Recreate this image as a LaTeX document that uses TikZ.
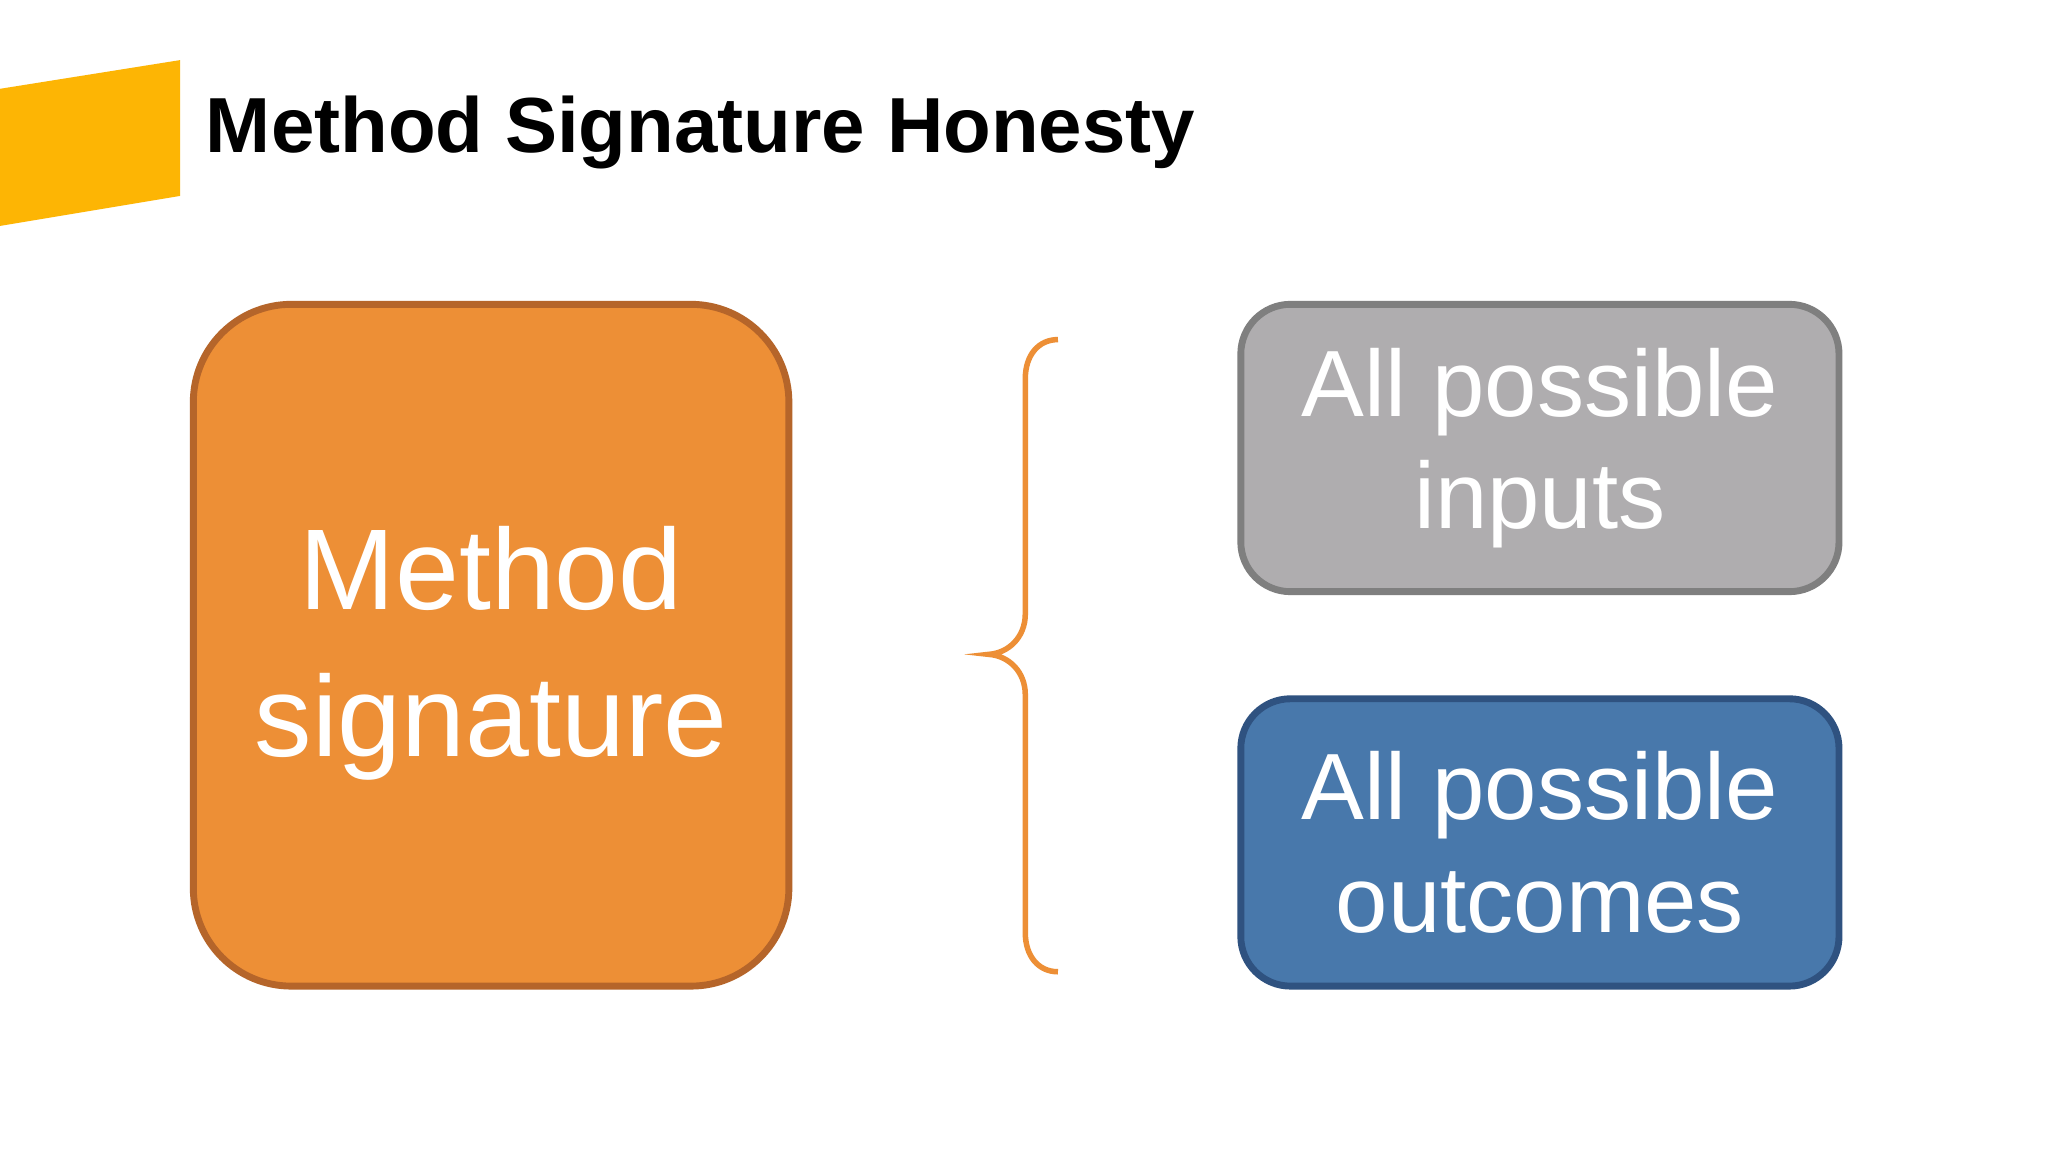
\documentclass[tikz,border=0pt]{standalone}
\usepackage{fontspec}
\setmainfont{Liberation Sans}
\begin{document}
\begin{tikzpicture}[x=0.01cm,y=-0.01cm,
  box/.style={draw, line width=3pt*0.5, text=white, align=center, inner sep=0pt},
  bodytext/.style={font=\fontsize{19}{24}\selectfont}]
\useasboundingbox (0,0) rectangle (1568,882);
\fill[white] (0,0) rectangle (1568,882);
\fill[fill={rgb,255:red,253;green,181;blue,4}] (0,68) -- (138,46) -- (138,150) -- (0,173) -- cycle;
\node[anchor=base west, inner sep=0pt, font=\fontsize{17}{20}\selectfont\bfseries] (title) at (157,117) {Method Signature Honesty};
\definecolor{orfill}{RGB}{237,143,54}
\definecolor{ordraw}{RGB}{181,101,42}
\definecolor{grfill}{RGB}{175,173,175}
\definecolor{grdraw}{RGB}{127,127,127}
\definecolor{blfill}{RGB}{72,120,171}
\definecolor{bldraw}{RGB}{47,82,128}
\draw[box, fill=orfill, draw=ordraw, rounded corners=0.75cm] (148,233) rectangle (604,755);
\node[text=white, align=center, font=\fontsize{25}{32}\selectfont] (ms) at (376,500) {Method\\signature};
\draw[box, fill=grfill, draw=grdraw, rounded corners=0.38cm] (950,233) rectangle (1408,453);
\node[text=white, align=center, font=\fontsize{20.5}{24.5}\selectfont] (in) at (1179,343) {All possible\\inputs};
\draw[box, fill=blfill, draw=bldraw, rounded corners=0.38cm] (950,535) rectangle (1408,755);
\node[text=white, align=center, font=\fontsize{20.5}{24.5}\selectfont] (out) at (1179,645) {All possible\\outcomes};
\draw[draw=orfill, line width=1.2pt] (810,260) .. controls (795,260) and (785,272) .. (785,290)
  -- (785,470) .. controls (785,488) and (772,500) .. (757,501)
  .. controls (772,502) and (785,514) .. (785,532)
  -- (785,714) .. controls (785,732) and (795,744) .. (810,744);
\end{tikzpicture}
\end{document}
